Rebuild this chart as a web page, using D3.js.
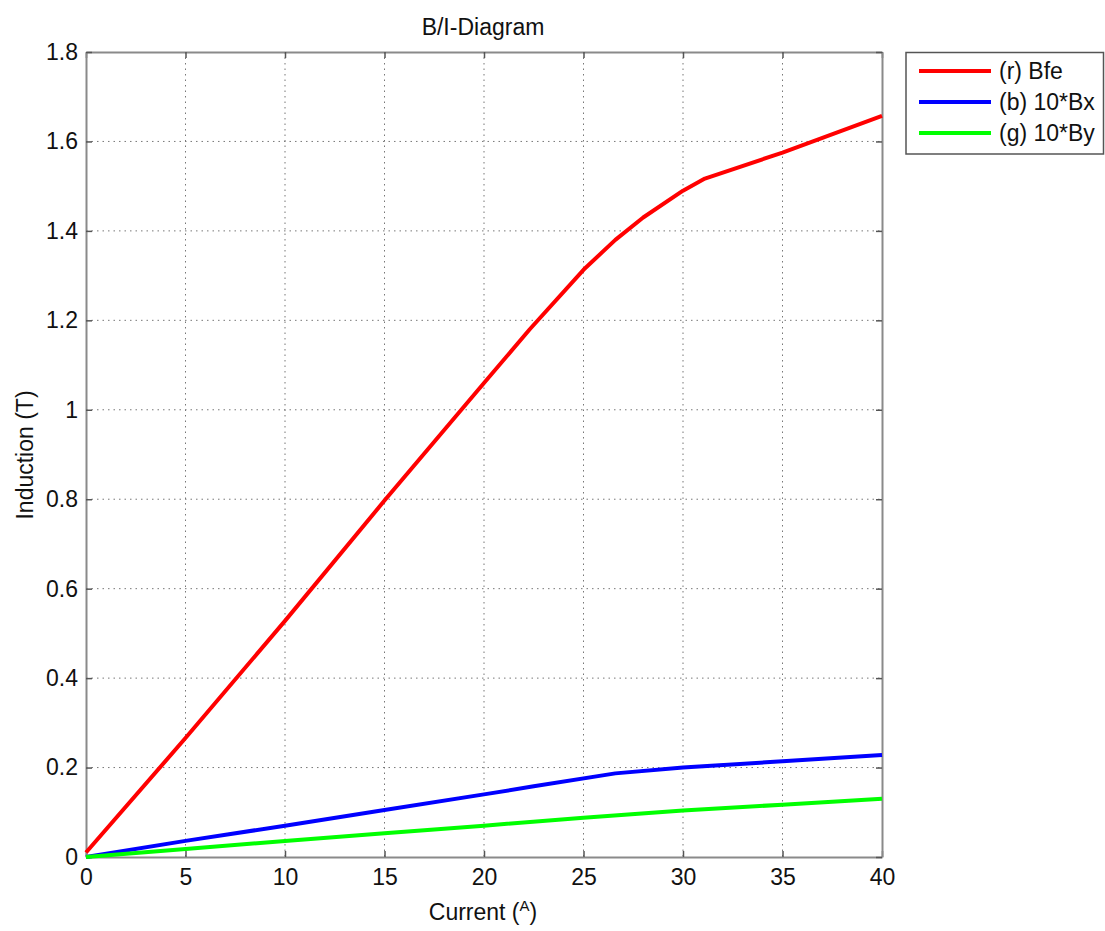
<!DOCTYPE html>
<html><head><meta charset="utf-8">
<script src="https://cdn.jsdelivr.net/npm/d3@7/dist/d3.min.js"></script>
<style>body{margin:0;background:#fff}svg text{font-family:"Liberation Sans",Arial,sans-serif;fill:#111}</style>
</head><body><svg id="c" width="1105" height="931"></svg>
<script>
const xTicks = [0,5,10,15,20,25,30,35,40];
const yTicks = [0,0.2,0.4,0.6,0.8,1,1.2,1.4,1.6,1.8];
const seriesNames = ["(r) Bfe","(b) 10*Bx","(g) 10*By"];
const seriesColors = ["#ff0000","#0000ff","#00ff00"];
const bfe = [[0,0.01],[5,0.266],[10,0.528],[15,0.797],[20,1.06],[22.3,1.18],[25,1.313],[26.6,1.38],[28,1.43],[30,1.49],[31.1,1.517],[35,1.575],[40,1.657]];
const bx = [[0,0.0],[5,0.036],[10,0.07],[15,0.105],[20,0.14],[22.5,0.158],[26.6,0.187],[30,0.2],[35,0.214],[40,0.228]];
const by = [[0,0.0],[5,0.018],[10,0.036],[15,0.053],[20,0.07],[25,0.088],[30,0.104],[35,0.117],[40,0.13]];
const series = [bfe,bx,by];

const svg = d3.select("#c");
const L=86,R=882,T=52,B=857;
const FS = "23px";
const x = d3.scaleLinear().domain([0,40]).range([L,R]);
const y = d3.scaleLinear().domain([0,1.8]).range([B,T]);

// grid
const g = svg.append("g");
g.selectAll(".gx").data(xTicks.slice(1,-1)).enter().append("line")
 .attr("x1",d=>x(d)).attr("x2",d=>x(d)).attr("y1",T).attr("y2",B)
 .attr("stroke","#777").attr("stroke-width",1).attr("stroke-dasharray","1.5,4");
g.selectAll(".gy").data(yTicks.slice(1,-1)).enter().append("line")
 .attr("y1",d=>y(d)).attr("y2",d=>y(d)).attr("x1",L).attr("x2",R)
 .attr("stroke","#777").attr("stroke-width",1).attr("stroke-dasharray","1.5,4");

// axes
const fmt = d=> d3.format("")(+d.toFixed(1));
const xa = svg.append("g").attr("transform",`translate(0,${B})`)
 .call(d3.axisBottom(x).tickValues(xTicks).tickSizeInner(-6).tickSizeOuter(0).tickPadding(12).tickFormat(fmt));
const xt = svg.append("g").attr("transform",`translate(0,${T})`)
 .call(d3.axisTop(x).tickValues(xTicks).tickSizeInner(-6).tickSizeOuter(0).tickFormat(""));
const ya = svg.append("g").attr("transform",`translate(${L},0)`)
 .call(d3.axisLeft(y).tickValues(yTicks).tickSizeInner(-6).tickSizeOuter(0).tickPadding(8).tickFormat(fmt));
const yr = svg.append("g").attr("transform",`translate(${R},0)`)
 .call(d3.axisRight(y).tickValues(yTicks).tickSizeInner(-6).tickSizeOuter(0).tickFormat(""));
[xa,xt,ya,yr].forEach(a=>{
  a.select(".domain").attr("stroke","#8a8a8a").attr("stroke-width",2);
  a.selectAll(".tick line").attr("stroke","#555").attr("stroke-width",1.5);
  a.selectAll("text").style("font-size",FS).attr("fill","#111");
});
xa.selectAll("text").attr("dy","0.71em");

// lines
const line = d3.line().x(d=>x(d[0])).y(d=>y(d[1]));
series.forEach((s,i)=>{
  svg.append("path").datum(s).attr("d",line).attr("fill","none")
   .attr("stroke",seriesColors[i]).attr("stroke-width",4).attr("stroke-linejoin","round");
});

// title & labels
svg.append("text").attr("x",483).attr("y",35).attr("text-anchor","middle").style("font-size",FS).text("B/I-Diagram");
const xl = svg.append("text").attr("x",483).attr("y",920).attr("text-anchor","middle").style("font-size",FS);
xl.append("tspan").text("Current (");
xl.append("tspan").attr("dy",-9).style("font-size","15px").text("A");
xl.append("tspan").attr("dy",9).text(")");
svg.append("text").attr("transform","translate(33,455) rotate(-90)").attr("text-anchor","middle").style("font-size",FS).text("Induction (T)");

// legend
const lg = svg.append("g");
lg.append("rect").attr("x",906).attr("y",52.5).attr("width",197.5).attr("height",101.5).attr("fill","#fff").attr("stroke","#555").attr("stroke-width",1.5);
const ly = [71,102,133];
seriesNames.forEach((n,i)=>{
  lg.append("line").attr("x1",919).attr("x2",991).attr("y1",ly[i]).attr("y2",ly[i]).attr("stroke",seriesColors[i]).attr("stroke-width",4);
  lg.append("text").attr("x",999).attr("y",ly[i]+8).style("font-size",FS).text(n);
});
</script></body></html>
